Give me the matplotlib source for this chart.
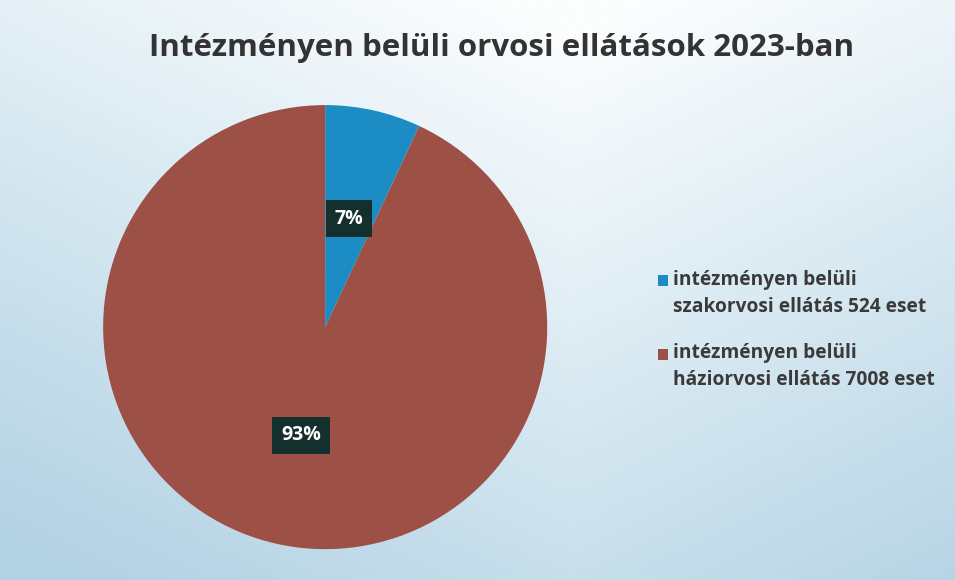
import numpy as np
import matplotlib.pyplot as plt
from matplotlib.colors import LinearSegmentedColormap
from matplotlib.legend_handler import HandlerPatch
from matplotlib.patches import Rectangle

title = 'Intézményen belüli orvosi ellátások 2023-ban'
categories = ['intézményen belüli\nszakorvosi ellátás 524 eset',
              'intézményen belüli\nháziorvosi ellátás 7008 eset']
cases = [524, 7008]
colors = ['#1b8cc4', '#9c5046']

plt.rcParams['font.family'] = ['Open Sans', 'DejaVu Sans']

fig = plt.figure(figsize=(9.55, 5.8), dpi=100)

# scanned paper look: pale blue, whiter towards the top
bg = fig.add_axes([0, 0, 1, 1])
yy, xx = np.mgrid[0:1:200j, 0:1:300j]
shade = np.clip((1 - yy) * 0.75 + np.abs(xx - 0.6) * 0.6 - 0.05, 0, 1)
paper = LinearSegmentedColormap.from_list('paper', ['#fbfdfe', '#d6e8f1', '#b3d2e4'])
bg.imshow(shade, cmap=paper, vmin=0, vmax=1, aspect='auto', extent=[0, 1, 0, 1], origin='lower')
bg.axis('off')

ax = fig.add_axes([0.108, 0.053, 0.465, 0.766])
wedges, texts, autotexts = ax.pie(cases, colors=colors, startangle=90, counterclock=False,
                                  autopct='%1.0f%%', pctdistance=0.5,
                                  wedgeprops=dict(linewidth=0))
for t in autotexts:
    t.set_color('white')
    t.set_fontsize(14)
    t.set_fontweight('bold')
    t.set_bbox(dict(facecolor='#14302e', edgecolor='none', boxstyle='square,pad=0.45'))
ax.set_xlim(-1, 1)
ax.set_ylim(-1, 1)
ax.set_aspect('equal')

fig.text(0.525, 0.918, title, ha='center', va='center', fontsize=22.5,
         fontweight='bold', color='#333333')


# legend square sits on the first text line, not the middle
def top_square(legend, orig_handle, xdescent, ydescent, width, height, fontsize):
    return Rectangle((-xdescent, -ydescent + 0.7 * fontsize), width, height)


leg = fig.legend(wedges, categories, loc='center left', bbox_to_anchor=(0.671, 0.431),
                 frameon=False, prop=dict(size=13.8, weight='bold'), handlelength=0.5,
                 handleheight=0.5, handletextpad=0.3, labelspacing=1.4,
                 labelcolor='#3a3a3a',
                 handler_map={w: HandlerPatch(patch_func=top_square) for w in wedges})
for t in leg.get_texts():
    t.set_linespacing(1.45)

fig.savefig('out.png')
